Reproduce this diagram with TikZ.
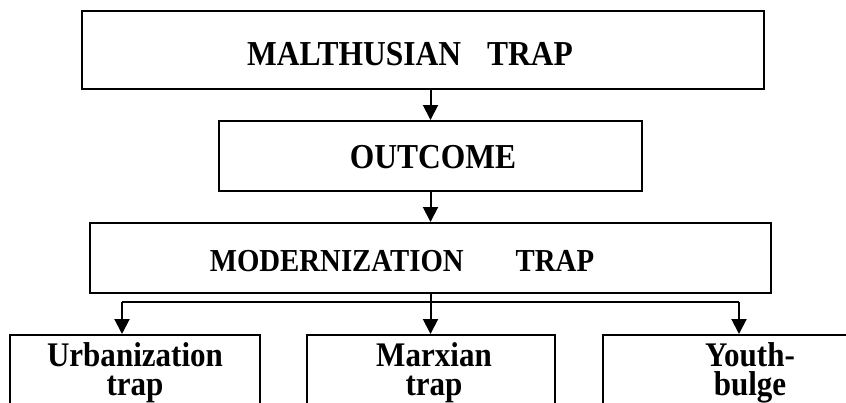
\documentclass[tikz,border=0pt]{standalone}
\usepackage{fontspec}
\setmainfont{Liberation Serif}[FakeStretch=0.9]
\usetikzlibrary{arrows.meta}
\begin{document}
\begin{tikzpicture}[x=1pt,y=-1pt,
  box/.style={draw=black,line width=2pt,inner sep=0pt},
  lbl/.style={inner sep=0pt,anchor=base,font=\bfseries},
  big/.style={font=\bfseries\fontsize{35}{35}\selectfont},
  mid/.style={font=\bfseries\fontsize{32}{32}\selectfont},
  small/.style={font=\bfseries\fontsize{34.5}{29}\selectfont,align=center},
  conn/.style={line width=2pt,-{Triangle[width=15pt,length=15pt]}},
  wire/.style={line width=2pt}]
\useasboundingbox (0,0) rectangle (846,402);
% boxes
\node[box,minimum width=682pt,minimum height=78pt] (top) at (423,50) {};
\node[box,minimum width=423pt,minimum height=70pt] (out) at (430.5,156) {};
\node[box,minimum width=681pt,minimum height=70pt] (mod) at (430.5,258) {};
\node[box,minimum width=250pt,minimum height=105pt] (urb) at (135,387.5) {};
\node[box,minimum width=248pt,minimum height=105pt] (marx) at (431,387.5) {};
\node[box,minimum width=294pt,minimum height=105pt] (youth) at (750,387.5) {};
% labels
\node[lbl,big] (tTop) at (410,65) {MALTHUSIAN\hspace{26pt}TRAP};
\node[lbl,big] (tOut) at (433,168) {OUTCOME};
\node[lbl,mid] (tMod) at (402,271) {MODERNIZATION\hspace{52pt}TRAP};
\node[lbl,small] (tUrb) at (135,395) {Urbanization\\trap};
\node[lbl,small] (tMarx) at (434,395) {Marxian\\trap};
\node[lbl,small] (tYou) at (750,395) {Youth-\\bulge};
% connectors
\draw[conn] (top.south -| out.north) -- (out.north);
\draw[conn] (out.south) -- (mod.north);
\coordinate (bl) at (122,302);
\coordinate (br) at (739,302);
\draw[wire] (bl) -- (br);
\draw[conn] (bl) -- (bl |- urb.north);
\draw[conn] (br) -- (br |- youth.north);
\draw[conn] (mod.south) -- (mod.south |- marx.north);
\end{tikzpicture}
\end{document}
